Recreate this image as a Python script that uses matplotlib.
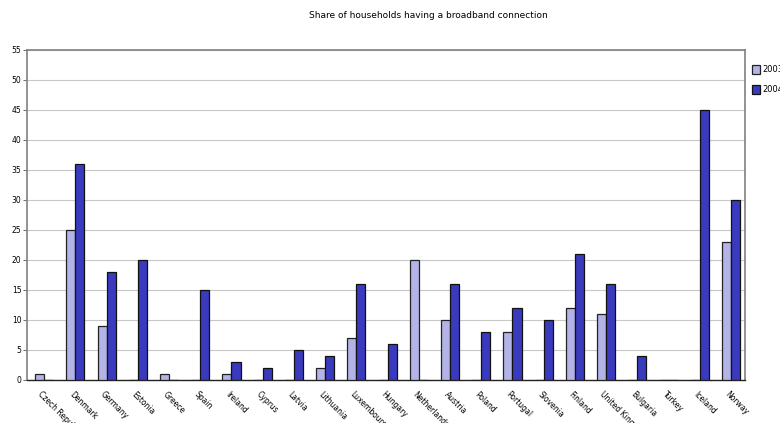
import matplotlib.pyplot as plt
import numpy as np

countries = ["Czech Republic", "Denmark", "Germany", "Estonia", "Greece", "Spain",
             "Ireland", "Cyprus", "Latvia", "Lithuania", "Luxembourg", "Hungary",
             "Netherlands", "Austria", "Poland", "Portugal", "Slovenia", "Finland",
             "United Kingdom", "Bulgaria", "Turkey", "Iceland", "Norway"]
share_2003 = [1, 25, 9, 0, 1, 0, 1, 0, 0, 2, 7, 0, 20, 10, 0, 8, 0, 12, 11, 0, 0, 0, 23]
share_2004 = [0, 36, 18, 20, 0, 15, 3, 2, 5, 4, 16, 6, 0, 16, 8, 12, 10, 21, 16, 4, 0, 45, 30]
years = ["2003", "2004"]

x = np.arange(len(countries))
w = 0.29

fig = plt.figure(figsize=(7.8, 4.23), dpi=100)
ax = fig.add_axes([0.0346, 0.1017, 0.9206, 0.7801])

ax.bar(x - w / 2 + 0.05, share_2003, w, color="#b3b3e8", edgecolor="#222222",
       linewidth=0.9, label=years[0], zorder=3)
ax.bar(x + w / 2 + 0.05, share_2004, w, color="#3a3abf", edgecolor="#111111",
       linewidth=0.9, label=years[1], zorder=3)

ax.set_xlim(-0.5, len(countries) - 0.5)
ax.set_ylim(0, 55)
ax.set_yticks(np.arange(0, 56, 5))
ax.yaxis.grid(True, color="#c8c8c8", linewidth=0.8, zorder=0)
ax.tick_params(axis="y", labelsize=5.5, length=3, width=0.6, color="#555555", pad=1)
ax.set_xticks(x)
ax.set_xticklabels(countries, rotation=-45, ha="left", va="top",
                   rotation_mode="anchor", fontsize=5.5)
ax.tick_params(axis="x", length=0, pad=7)

for side in ["top", "right", "left"]:
    ax.spines[side].set_color("#808080")
    ax.spines[side].set_linewidth(1.2)
ax.spines["bottom"].set_color("#222222")
ax.spines["bottom"].set_linewidth(1.0)

fig.text(0.549, 0.963, "Share of households having a broadband connection",
         ha="center", va="center", fontsize=6.5)

fig.legend(loc="upper left", bbox_to_anchor=(0.964, 0.846), frameon=False,
           fontsize=6, handlelength=0.95, handleheight=1.3, handletextpad=0.3,
           labelspacing=1.25, borderaxespad=0, borderpad=0)

fig.savefig("out.png", dpi=100)
